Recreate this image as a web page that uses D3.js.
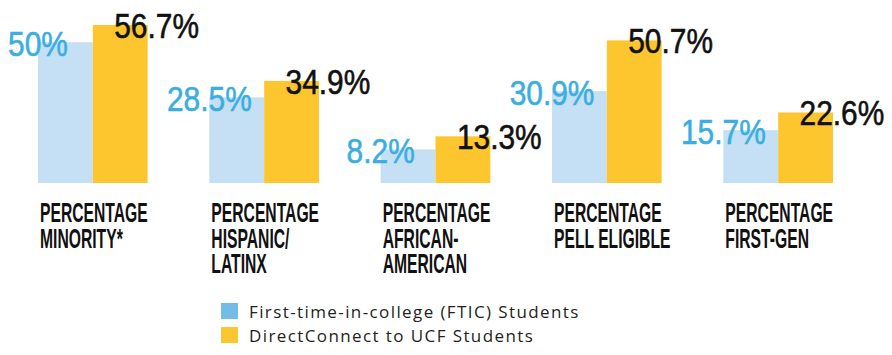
<!DOCTYPE html>
<html>
<head>
<meta charset="utf-8">
<script src="https://cdn.jsdelivr.net/npm/d3@7"></script>
<style>
  html, body { margin: 0; padding: 0; background: #fff; }
  svg { display: block; }
</style>
</head>
<body>
<svg id="chart" width="892" height="355"></svg>
<script>
// ---- data ----
const categories = ["minority", "hispanic", "african", "pell", "firstgen"];
const categoryLabels = [
  ["PERCENTAGE", "MINORITY*"],
  ["PERCENTAGE", "HISPANIC/", "LATINX"],
  ["PERCENTAGE", "AFRICAN-", "AMERICAN"],
  ["PERCENTAGE", "PELL ELIGIBLE"],
  ["PERCENTAGE", "FIRST-GEN"]
];
const seriesNames = ["First-time-in-college (FTIC) Students", "DirectConnect to UCF Students"];
const ftic = [50, 28.5, 8.2, 30.9, 15.7];
const directConnect = [56.7, 34.9, 13.3, 50.7, 22.6];
const valueLabelsFtic = ["50%", "28.5%", "8.2%", "30.9%", "15.7%"];
const valueLabelsDc = ["56.7%", "34.9%", "13.3%", "50.7%", "22.6%"];

// ---- styles ----
const barColors = ["#c5e0f4", "#fdc52e"];
const legendColors = ["#72bce7", "#fdc52e"];
const labelColors = ["#3aaee2", "#111111"];

const svg = d3.select("#chart");

const x = d3.scaleBand().domain(categories).range([38, 833]).paddingInner(0.36).paddingOuter(0);
const xs = d3.scaleBand().domain([0, 1]).range([0, x.bandwidth()]).padding(0);
const y = d3.scaleLinear().domain([-4.9, 56.7]).range([183, 25]);

const rows = categories.map((c, i) => ({
  cat: c, i,
  vals: [ftic[i], directConnect[i]],
  labels: [valueLabelsFtic[i], valueLabelsDc[i]]
}));

const groups = svg.append("g").selectAll("g.grp").data(rows).join("g")
  .attr("class", "grp")
  .attr("transform", d => `translate(${x(d.cat)},0)`);

// bars
groups.selectAll("rect").data(d => d.vals.map((v, s) => ({ v, s }))).join("rect")
  .attr("x", d => xs(d.s))
  .attr("y", d => y(d.v))
  .attr("width", xs.bandwidth())
  .attr("height", d => y.range()[0] - y(d.v))
  .attr("fill", d => barColors[d.s]);

// value labels
const valFont = "'Liberation Sans', Arial, sans-serif";
groups.append("text")
  .attr("transform", d => `translate(${xs(0)},${y(d.vals[0]) + 14}) scale(0.83,1)`)
  .attr("text-anchor", "middle")
  .attr("font-family", valFont)
  .attr("font-size", 36)
  .attr("fill", labelColors[0])
  .attr("stroke", labelColors[0])
  .attr("stroke-width", 0.6)
  .text(d => d.labels[0]);

groups.append("text")
  .attr("transform", d => `translate(${xs(1) + xs.bandwidth() / 2 - 6},${y(d.vals[1]) + 13}) scale(0.83,1)`)
  .attr("text-anchor", "start")
  .attr("font-family", valFont)
  .attr("font-size", 36)
  .attr("fill", labelColors[1])
  .attr("stroke", labelColors[1])
  .attr("stroke-width", 0.6)
  .text(d => d.labels[1]);

// category labels
groups.each(function (d) {
  const g = d3.select(this);
  categoryLabels[d.i].forEach((line, li) => {
    g.append("text")
      .attr("transform", `translate(2,${222 + li * 25.5}) scale(0.56,1)`)
      .attr("font-family", valFont)
      .attr("font-weight", "bold")
      .attr("font-size", 28)
      .attr("fill", "#111")
      .text(line);
  });
});

// legend
const legend = svg.append("g").attr("transform", "translate(221,303)");
const li = legend.selectAll("g").data(seriesNames).join("g")
  .attr("transform", (d, i) => `translate(0,${i * 24})`);
li.append("rect").attr("width", 17).attr("height", 16).attr("fill", (d, i) => legendColors[i]);
li.append("text")
  .attr("x", 28).attr("y", 15)
  .attr("font-family", "'Open Sans', sans-serif")
  .attr("font-size", 17)
  .attr("letter-spacing", 1.4)
  .attr("fill", "#231f20")
  .text(d => d);
</script>
</body>
</html>
